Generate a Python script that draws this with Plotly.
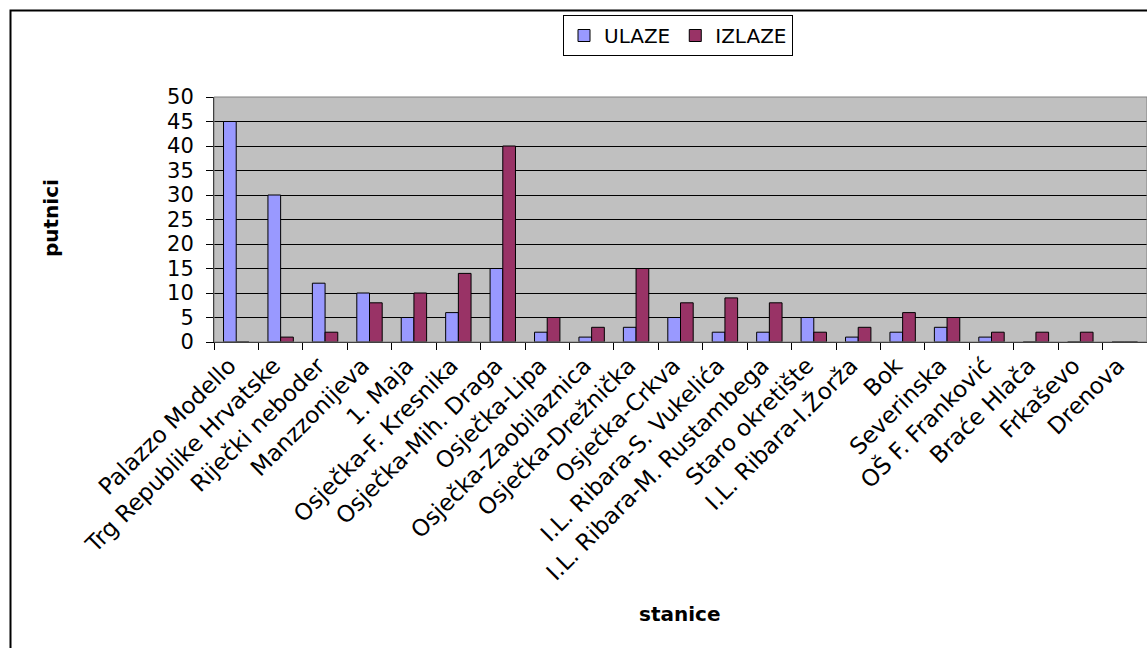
import plotly.graph_objects as go

stanice = ["Palazzo Modello", "Trg Republike Hrvatske", "Riječki neboder", "Manzzonijeva", "1. Maja",
           "Osječka-F. Kresnika", "Osječka-Mih. Draga", "Osječka-Lipa", "Osječka-Zaobilaznica",
           "Osječka-Drežnička", "Osječka-Crkva", "I.L. Ribara-S. Vukelića", "I.L. Ribara-M. Rustambega",
           "Staro okretište", "I.L. Ribara-I.Žorža", "Bok", "Severinska", "OŠ F. Franković",
           "Braće Hlača", "Frkaševo", "Drenova"]
ulaze = [45, 30, 12, 10, 5, 6, 15, 2, 1, 3, 5, 2, 2, 5, 1, 2, 3, 1, 0, 0, 0]
izlaze = [0, 1, 2, 8, 10, 14, 40, 5, 3, 15, 8, 9, 8, 2, 3, 6, 5, 2, 2, 2, 0]
y_ticks = list(range(0, 51, 5))

W, H = 1147, 648
L, R, T, B = 214, 0, 97, 306
pw = W - L - R
ph = H - T - B

def px_to_paper_x(px):
    return (px - L) / pw

def px_to_paper_y(py):
    return (H - B - py) / ph

FONT = "DejaVu Sans"

fig = go.Figure()
fig.add_trace(go.Bar(name="ULAZE", x=stanice, y=ulaze,
                     marker=dict(color="#9999FF", line=dict(color="black", width=1))))
fig.add_trace(go.Bar(name="IZLAZE", x=stanice, y=izlaze,
                     marker=dict(color="#993366", line=dict(color="black", width=1))))

fig.update_layout(
    width=W, height=H,
    margin=dict(l=L, r=R, t=T, b=B, pad=0),
    paper_bgcolor="white",
    plot_bgcolor="#C0C0C0",
    barmode="group",
    bargap=1.5 / 3.5,
    bargroupgap=0,
    font=dict(family=FONT, size=20, color="black"),
    showlegend=True,
    legend=dict(orientation="h", x=px_to_paper_x(678), xanchor="center",
                y=px_to_paper_y(15), yanchor="top",
                bordercolor="black", borderwidth=1, bgcolor="white",
                font=dict(family=FONT, size=20, color="black"),
                itemwidth=30, tracegroupgap=0),
    xaxis=dict(
        type="category",
        tickangle=-45,
        ticks="outside", ticklen=7, tickcolor="black", tickwidth=1,
        tickson="boundaries",
        showline=True, linecolor="black", linewidth=1,
        showgrid=False,
        ticklabelshift=-7,
        tickfont=dict(family=FONT, size=23, color="black"),
        automargin=False,
    ),
    yaxis=dict(
        range=[0, 50],
        tickmode="array", tickvals=y_ticks, ticktext=[str(v) for v in y_ticks],
        ticks="outside", ticklen=7, tickcolor="black", tickwidth=1,
        showline=True, linecolor="black", linewidth=1,
        showgrid=True, gridcolor="black", gridwidth=1,
        zeroline=False,
        ticklabelstandoff=8,
        tickfont=dict(family=FONT, size=21, color="black"),
        automargin=False,
    ),
)

# plot area border (gray)
fig.add_shape(type="rect", xref="paper", yref="paper", x0=0, x1=1, y0=0, y1=1,
              line=dict(color="#808080", width=1), layer="above")
# outer chart frame
fig.add_shape(type="rect", xref="paper", yref="paper",
              x0=px_to_paper_x(10.5), x1=px_to_paper_x(W + 20),
              y0=px_to_paper_y(H + 20), y1=px_to_paper_y(10.5),
              line=dict(color="black", width=2), layer="above")

fig.add_annotation(text="<b>putnici</b>", xref="paper", yref="paper",
                   x=px_to_paper_x(51), y=px_to_paper_y(218), xanchor="center", yanchor="middle",
                   textangle=-90, showarrow=False,
                   font=dict(family=FONT, size=20, color="black"))
fig.add_annotation(text="<b>stanice</b>", xref="paper", yref="paper",
                   x=px_to_paper_x(679), y=px_to_paper_y(614), xanchor="center", yanchor="middle",
                   showarrow=False,
                   font=dict(family=FONT, size=20, color="black"))

fig.write_html("out.html", config={"displayModeBar": False},
               post_script="document.body.style.margin='0';document.body.style.overflow='hidden';")
